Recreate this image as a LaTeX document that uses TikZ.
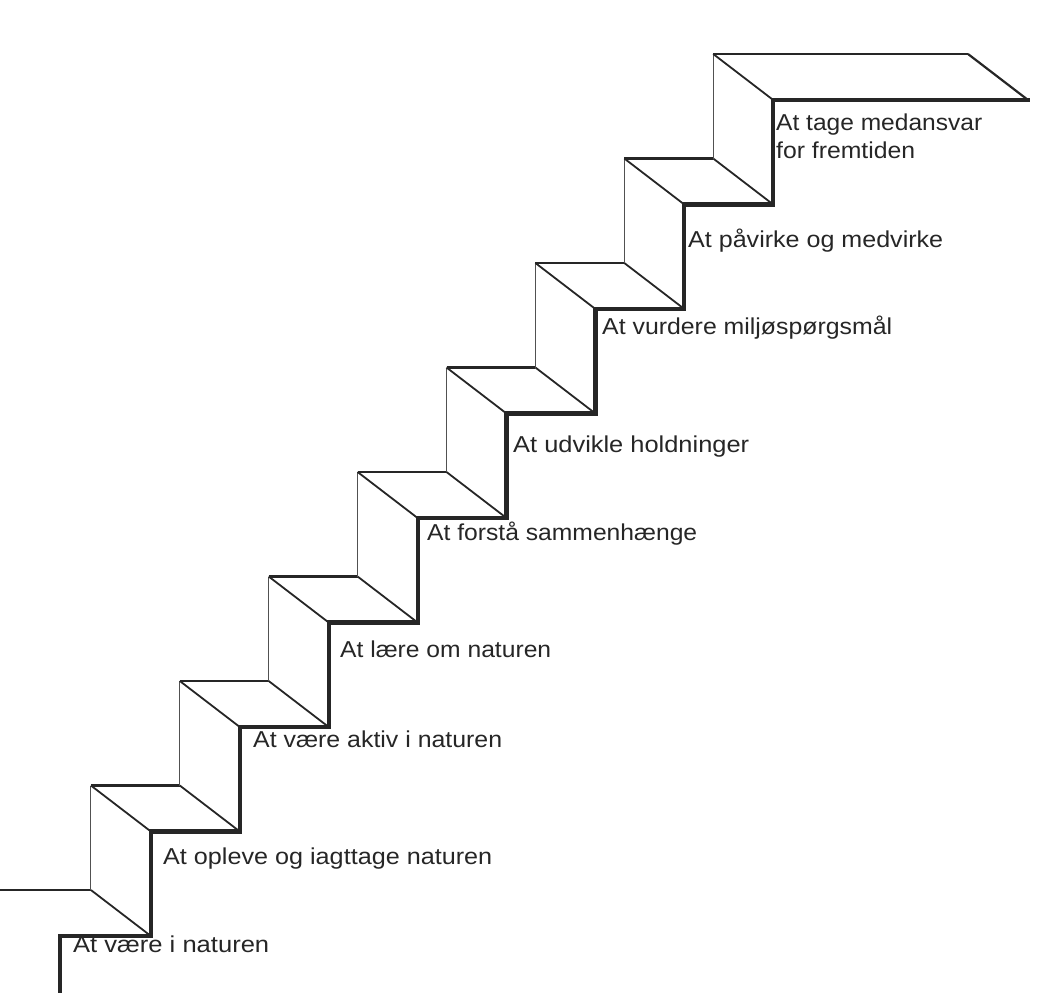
\documentclass[tikz,border=0pt]{standalone}
\usepackage{fontspec}
\usepackage{graphicx}
\setmainfont{Liberation Sans}
\definecolor{ink}{RGB}{38,38,38}
\begin{document}
\begin{tikzpicture}[x=1pt,y=-1pt,
  front/.style={draw=ink,line width=4.2pt,line cap=rect,line join=miter},
  backedge/.style={draw=ink,line width=2.6pt},
  diag/.style={draw=ink,line width=1.8pt},
  riser/.style={draw=ink!80,line width=1.1pt},
  lab/.style={anchor=base west,inner sep=0pt,text=ink,font=\fontsize{23}{27}\selectfont}]
\useasboundingbox (0,0) rectangle (1047,993);
% step geometry
\pgfmathsetmacro{\dx}{88.9}
\pgfmathsetmacro{\dy}{104.5}
% ground
\coordinate (g0) at (60,993);
\coordinate (g1) at (60,936);
\coordinate (g2) at (150.9,936);
\draw[backedge,line width=2pt] (0,890) -- (90.9,890);
\draw[diag] (90.9,890) -- (g2);
\draw[front] (g0) -- (g1) -- (g2);
% steps 0..7: riser and tread
\foreach \k in {0,...,7}{
  \pgfmathsetmacro{\xa}{62+\dx*(\k+1)}
  \pgfmathsetmacro{\xb}{62+\dx*(\k+2)}
  \pgfmathsetmacro{\ylow}{936-\dy*\k}
  \pgfmathsetmacro{\yk}{936-\dy*(\k+1)}
  % back riser
  \draw[riser] (\xa-60,\ylow-46) -- (\xa-60,\yk-46);
  \ifnum\k<7
    \draw[backedge] (\xa-60,\yk-46) -- (\xb-60,\yk-46);
    \draw[diag] (\xa-60,\yk-46) -- (\xa,\yk);
    \draw[diag] (\xb-60,\yk-46) -- (\xb,\yk);
    \draw[front] (\xa,\ylow) -- (\xa,\yk) -- (\xb,\yk);
  \else
    \draw[backedge] (\xa-60,\yk-46) -- (968,\yk-46);
    \draw[diag] (\xa-60,\yk-46) -- (\xa,\yk);
    \draw[diag,line width=2.2pt] (968,\yk-46) -- (1028,\yk);
    \draw[front] (\xa,\ylow) -- (\xa,\yk) -- (1028,\yk);
  \fi
}
% labels
\node[lab] (l0) at (73,952) {\resizebox{196pt}{\height}{At være i naturen}};
\node[lab] (l1) at (163,864) {\resizebox{329pt}{\height}{At opleve og iagttage naturen}};
\node[lab] (l2) at (253,747) {\resizebox{249pt}{\height}{At være aktiv i naturen}};
\node[lab] (l3) at (340,657) {\resizebox{211pt}{\height}{At lære om naturen}};
\node[lab] (l4) at (427,540) {\resizebox{270pt}{\height}{At forstå sammenhænge}};
\node[lab] (l5) at (513,452) {\resizebox{236pt}{\height}{At udvikle holdninger}};
\node[lab] (l6) at (602,334) {\resizebox{290pt}{\height}{At vurdere miljøspørgsmål}};
\node[lab] (l7) at (688,247) {\resizebox{255pt}{\height}{At påvirke og medvirke}};
\node[lab] (l8a) at (776,130) {\resizebox{206pt}{\height}{At tage medansvar}};
\node[lab] (l8b) at (776,158) {\resizebox{139pt}{\height}{for fremtiden}};
\end{tikzpicture}
\end{document}
